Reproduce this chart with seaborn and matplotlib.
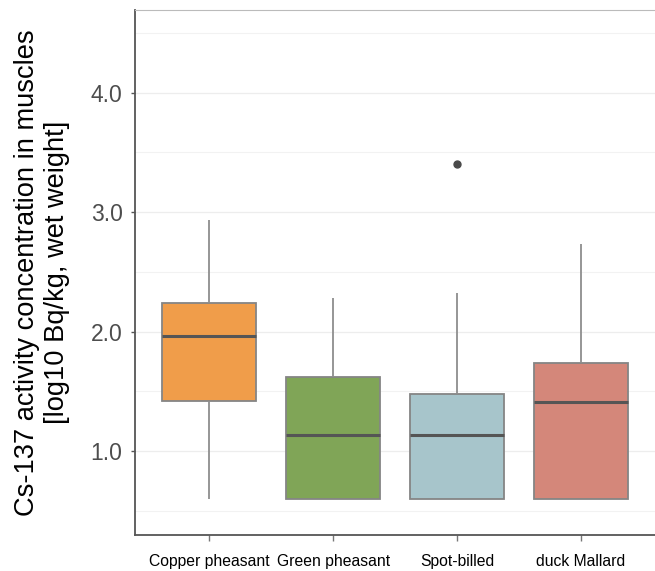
import numpy as np
import pandas as pd
import matplotlib
matplotlib.use("Agg")
import matplotlib.pyplot as plt
import seaborn as sns
from matplotlib.ticker import MultipleLocator

# ---- data (log10 Bq/kg) ----
categories = ["Copper pheasant", "Green pheasant", "Spot-billed", "duck Mallard"]
copper_pheasant = [0.60, 1.42, 1.96, 2.24, 2.93]
green_pheasant = [0.60, 0.60, 1.14, 1.62, 2.28]
spot_billed = [0.60, 0.60, 0.60, 0.90, 1.14, 1.30, 1.48, 2.32, 3.40]
duck_mallard = [0.60, 0.60, 1.41, 1.74, 2.73]
colors = ["#F09D4A", "#80A557", "#A7C5CB", "#D4877A"]
y_ticks = [1.0, 2.0, 3.0, 4.0]
y_tick_labels = ["1.0", "2.0", "3.0", "4.0"]

series = [copper_pheasant, green_pheasant, spot_billed, duck_mallard]
df = pd.DataFrame({
    "species": np.concatenate([[c] * len(v) for c, v in zip(categories, series)]),
    "value": np.concatenate(series),
})

sns.set_theme(style="white")
plt.rcParams["font.family"] = ["Liberation Sans", "DejaVu Sans"]

fig = plt.figure(figsize=(6.55, 5.71), dpi=100)
ax = fig.add_axes([135 / 655, 1 - 535 / 571, 1 - 135 / 655, (535 - 10) / 571])

# grid
ax.set_axisbelow(True)
ax.yaxis.set_major_locator(MultipleLocator(1.0))
ax.yaxis.set_minor_locator(MultipleLocator(0.5))
ax.grid(True, which="major", color="#EDEDED", linewidth=0.9)
ax.grid(True, which="minor", axis="y", color="#F2F2F2", linewidth=0.8)

sns.boxplot(
    data=df, x="species", y="value", hue="species", order=categories,
    hue_order=categories, palette=colors, saturation=1, legend=False, ax=ax,
    width=0.76, showcaps=False, linewidth=1.3, linecolor="#858585",
    whis=1.5, dodge=False,
    medianprops=dict(color="#555555", linewidth=2.2),
    whiskerprops=dict(color="#8E8E8E", linewidth=1.3),
    flierprops=dict(marker="o", markersize=5, markerfacecolor="#4A4A4A",
                    markeredgecolor="#4A4A4A"),
)

ax.set_xlim(-0.6, 3.6)
ax.set_ylim(0.30, 4.69)
ax.set_yticks(y_ticks)
ax.set_yticklabels(y_tick_labels)

ax.set_xlabel("")
ax.set_ylabel("Cs-137 activity concentration in muscles\n[log10 Bq/kg, wet weight]",
              fontsize=19.6, color="black", linespacing=1.15, va="center")
ax.yaxis.set_label_coords((42 - 135) / 520, 0.5)

ax.tick_params(axis="y", which="major", labelsize=16.5, labelcolor="#4D4D4D",
               left=True, length=3, width=1, color="#555555", pad=6)
ax.tick_params(axis="y", which="minor", left=False)
ax.tick_params(axis="x", labelsize=11.3, labelcolor="black", bottom=True,
               length=4, width=1, color="#777777", pad=10)

for s in ["left", "bottom"]:
    ax.spines[s].set_color("#555555")
    ax.spines[s].set_linewidth(1.3)
ax.spines["top"].set_color("#BBBBBB")
ax.spines["top"].set_linewidth(0.8)
ax.spines["right"].set_visible(False)

fig.savefig("out.png", dpi=100)
